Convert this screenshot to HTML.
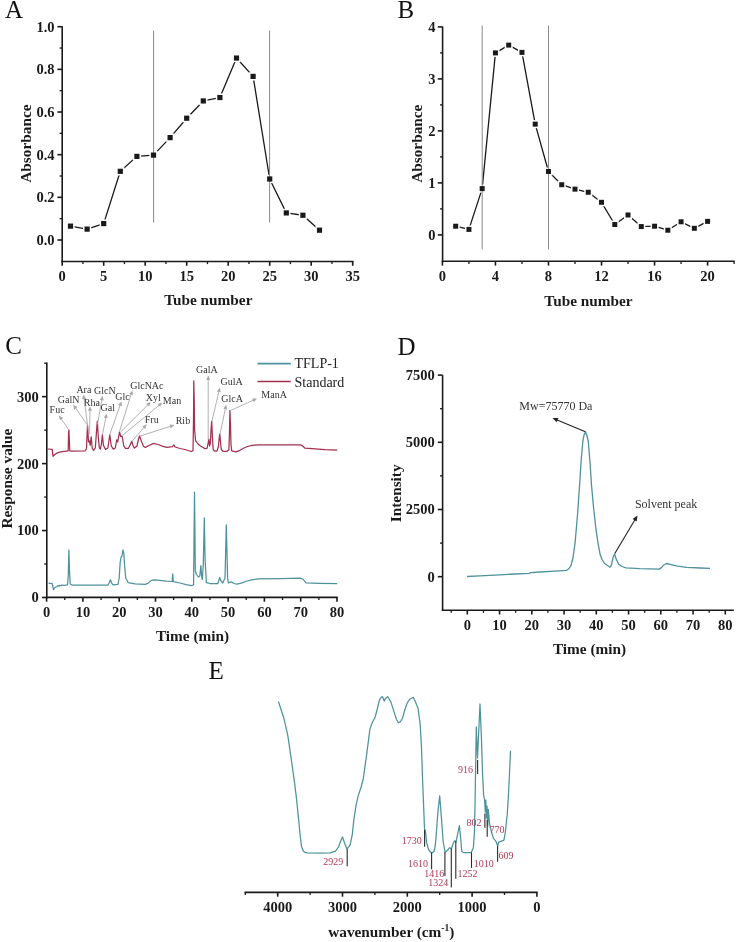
<!DOCTYPE html>
<html><head><meta charset="utf-8"><style>
html,body{margin:0;padding:0;background:#fff;}
svg{display:block;font-family:'Liberation Serif', serif;filter:blur(0.4px);}
</style></head><body>
<svg width="736" height="942" viewBox="0 0 736 942">
<rect width="736" height="942" fill="#fff"/>
<text x="5.00" y="17.80" font-size="25" text-anchor="start" font-weight="normal" fill="#111" >A</text>
<line x1="62.20" y1="26.20" x2="62.20" y2="262.30" stroke="#1a1a1a" stroke-width="1.6" />
<line x1="61.40" y1="261.50" x2="353.50" y2="261.50" stroke="#1a1a1a" stroke-width="1.6" />
<line x1="57.40" y1="240.00" x2="62.20" y2="240.00" stroke="#1a1a1a" stroke-width="1.6" />
<text x="54.60" y="244.90" font-size="14.5" text-anchor="end" font-weight="bold" fill="#1a1a1a" >0.0</text>
<line x1="57.40" y1="197.34" x2="62.20" y2="197.34" stroke="#1a1a1a" stroke-width="1.6" />
<text x="54.60" y="202.24" font-size="14.5" text-anchor="end" font-weight="bold" fill="#1a1a1a" >0.2</text>
<line x1="57.40" y1="154.68" x2="62.20" y2="154.68" stroke="#1a1a1a" stroke-width="1.6" />
<text x="54.60" y="159.58" font-size="14.5" text-anchor="end" font-weight="bold" fill="#1a1a1a" >0.4</text>
<line x1="57.40" y1="112.02" x2="62.20" y2="112.02" stroke="#1a1a1a" stroke-width="1.6" />
<text x="54.60" y="116.92" font-size="14.5" text-anchor="end" font-weight="bold" fill="#1a1a1a" >0.6</text>
<line x1="57.40" y1="69.36" x2="62.20" y2="69.36" stroke="#1a1a1a" stroke-width="1.6" />
<text x="54.60" y="74.26" font-size="14.5" text-anchor="end" font-weight="bold" fill="#1a1a1a" >0.8</text>
<line x1="57.40" y1="26.70" x2="62.20" y2="26.70" stroke="#1a1a1a" stroke-width="1.6" />
<text x="54.60" y="31.60" font-size="14.5" text-anchor="end" font-weight="bold" fill="#1a1a1a" >1.0</text>
<line x1="59.60" y1="218.67" x2="62.20" y2="218.67" stroke="#1a1a1a" stroke-width="1.3" />
<line x1="59.60" y1="176.01" x2="62.20" y2="176.01" stroke="#1a1a1a" stroke-width="1.3" />
<line x1="59.60" y1="133.35" x2="62.20" y2="133.35" stroke="#1a1a1a" stroke-width="1.3" />
<line x1="59.60" y1="90.69" x2="62.20" y2="90.69" stroke="#1a1a1a" stroke-width="1.3" />
<line x1="59.60" y1="48.03" x2="62.20" y2="48.03" stroke="#1a1a1a" stroke-width="1.3" />
<line x1="62.20" y1="261.50" x2="62.20" y2="265.80" stroke="#1a1a1a" stroke-width="1.6" />
<text x="62.20" y="280.80" font-size="14.5" text-anchor="middle" font-weight="bold" fill="#1a1a1a" >0</text>
<line x1="103.70" y1="261.50" x2="103.70" y2="265.80" stroke="#1a1a1a" stroke-width="1.6" />
<text x="103.70" y="280.80" font-size="14.5" text-anchor="middle" font-weight="bold" fill="#1a1a1a" >5</text>
<line x1="145.20" y1="261.50" x2="145.20" y2="265.80" stroke="#1a1a1a" stroke-width="1.6" />
<text x="145.20" y="280.80" font-size="14.5" text-anchor="middle" font-weight="bold" fill="#1a1a1a" >10</text>
<line x1="186.70" y1="261.50" x2="186.70" y2="265.80" stroke="#1a1a1a" stroke-width="1.6" />
<text x="186.70" y="280.80" font-size="14.5" text-anchor="middle" font-weight="bold" fill="#1a1a1a" >15</text>
<line x1="228.20" y1="261.50" x2="228.20" y2="265.80" stroke="#1a1a1a" stroke-width="1.6" />
<text x="228.20" y="280.80" font-size="14.5" text-anchor="middle" font-weight="bold" fill="#1a1a1a" >20</text>
<line x1="269.70" y1="261.50" x2="269.70" y2="265.80" stroke="#1a1a1a" stroke-width="1.6" />
<text x="269.70" y="280.80" font-size="14.5" text-anchor="middle" font-weight="bold" fill="#1a1a1a" >25</text>
<line x1="311.20" y1="261.50" x2="311.20" y2="265.80" stroke="#1a1a1a" stroke-width="1.6" />
<text x="311.20" y="280.80" font-size="14.5" text-anchor="middle" font-weight="bold" fill="#1a1a1a" >30</text>
<line x1="352.70" y1="261.50" x2="352.70" y2="265.80" stroke="#1a1a1a" stroke-width="1.6" />
<text x="352.70" y="280.80" font-size="14.5" text-anchor="middle" font-weight="bold" fill="#1a1a1a" >35</text>
<line x1="82.95" y1="261.50" x2="82.95" y2="264.10" stroke="#1a1a1a" stroke-width="1.3" />
<line x1="124.45" y1="261.50" x2="124.45" y2="264.10" stroke="#1a1a1a" stroke-width="1.3" />
<line x1="165.95" y1="261.50" x2="165.95" y2="264.10" stroke="#1a1a1a" stroke-width="1.3" />
<line x1="207.45" y1="261.50" x2="207.45" y2="264.10" stroke="#1a1a1a" stroke-width="1.3" />
<line x1="248.95" y1="261.50" x2="248.95" y2="264.10" stroke="#1a1a1a" stroke-width="1.3" />
<line x1="290.45" y1="261.50" x2="290.45" y2="264.10" stroke="#1a1a1a" stroke-width="1.3" />
<line x1="331.95" y1="261.50" x2="331.95" y2="264.10" stroke="#1a1a1a" stroke-width="1.3" />
<text x="208.30" y="305.30" font-size="15.3" text-anchor="middle" font-weight="bold" fill="#1a1a1a" >Tube number</text>
<text x="0.00" y="0.00" font-size="15.3" text-anchor="middle" font-weight="bold" fill="#1a1a1a" transform="translate(31,143.6) rotate(-90)">Absorbance</text>
<polyline points="70.50,226.14 87.10,229.12 103.70,223.58 120.30,171.32 136.90,156.39 153.50,155.11 170.10,137.62 186.70,118.21 203.30,100.93 219.90,97.52 236.50,58.06 253.10,76.40 269.70,179.00 286.30,212.91 302.90,215.26 319.50,230.19" fill="none" stroke="#1a1a1a" stroke-width="1.3" stroke-linejoin="round" />
<rect x="66.40" y="222.04" width="8.2" height="8.2" fill="#fff"/>
<rect x="83.00" y="225.02" width="8.2" height="8.2" fill="#fff"/>
<rect x="99.60" y="219.48" width="8.2" height="8.2" fill="#fff"/>
<rect x="116.20" y="167.22" width="8.2" height="8.2" fill="#fff"/>
<rect x="132.80" y="152.29" width="8.2" height="8.2" fill="#fff"/>
<rect x="149.40" y="151.01" width="8.2" height="8.2" fill="#fff"/>
<rect x="166.00" y="133.52" width="8.2" height="8.2" fill="#fff"/>
<rect x="182.60" y="114.11" width="8.2" height="8.2" fill="#fff"/>
<rect x="199.20" y="96.83" width="8.2" height="8.2" fill="#fff"/>
<rect x="215.80" y="93.42" width="8.2" height="8.2" fill="#fff"/>
<rect x="232.40" y="53.96" width="8.2" height="8.2" fill="#fff"/>
<rect x="249.00" y="72.30" width="8.2" height="8.2" fill="#fff"/>
<rect x="265.60" y="174.90" width="8.2" height="8.2" fill="#fff"/>
<rect x="282.20" y="208.81" width="8.2" height="8.2" fill="#fff"/>
<rect x="298.80" y="211.16" width="8.2" height="8.2" fill="#fff"/>
<rect x="315.40" y="226.09" width="8.2" height="8.2" fill="#fff"/>
<line x1="153.60" y1="30.40" x2="153.60" y2="222.50" stroke="#8a8a8a" stroke-width="1.0" />
<line x1="269.60" y1="30.40" x2="269.60" y2="222.50" stroke="#8a8a8a" stroke-width="1.0" />
<rect x="67.90" y="223.54" width="5.2" height="5.2" fill="#1a1a1a"/>
<rect x="84.50" y="226.52" width="5.2" height="5.2" fill="#1a1a1a"/>
<rect x="101.10" y="220.98" width="5.2" height="5.2" fill="#1a1a1a"/>
<rect x="117.70" y="168.72" width="5.2" height="5.2" fill="#1a1a1a"/>
<rect x="134.30" y="153.79" width="5.2" height="5.2" fill="#1a1a1a"/>
<rect x="150.90" y="152.51" width="5.2" height="5.2" fill="#1a1a1a"/>
<rect x="167.50" y="135.02" width="5.2" height="5.2" fill="#1a1a1a"/>
<rect x="184.10" y="115.61" width="5.2" height="5.2" fill="#1a1a1a"/>
<rect x="200.70" y="98.33" width="5.2" height="5.2" fill="#1a1a1a"/>
<rect x="217.30" y="94.92" width="5.2" height="5.2" fill="#1a1a1a"/>
<rect x="233.90" y="55.46" width="5.2" height="5.2" fill="#1a1a1a"/>
<rect x="250.50" y="73.80" width="5.2" height="5.2" fill="#1a1a1a"/>
<rect x="267.10" y="176.40" width="5.2" height="5.2" fill="#1a1a1a"/>
<rect x="283.70" y="210.31" width="5.2" height="5.2" fill="#1a1a1a"/>
<rect x="300.30" y="212.66" width="5.2" height="5.2" fill="#1a1a1a"/>
<rect x="316.90" y="227.59" width="5.2" height="5.2" fill="#1a1a1a"/>
<text x="397.50" y="17.80" font-size="25" text-anchor="start" font-weight="normal" fill="#111" >B</text>
<line x1="442.60" y1="26.50" x2="442.60" y2="262.10" stroke="#1a1a1a" stroke-width="1.6" />
<line x1="441.80" y1="261.30" x2="734.72" y2="261.30" stroke="#1a1a1a" stroke-width="1.6" />
<line x1="437.80" y1="234.90" x2="442.60" y2="234.90" stroke="#1a1a1a" stroke-width="1.6" />
<text x="435.40" y="239.80" font-size="14.5" text-anchor="end" font-weight="bold" fill="#1a1a1a" >0</text>
<line x1="437.80" y1="182.90" x2="442.60" y2="182.90" stroke="#1a1a1a" stroke-width="1.6" />
<text x="435.40" y="187.80" font-size="14.5" text-anchor="end" font-weight="bold" fill="#1a1a1a" >1</text>
<line x1="437.80" y1="130.90" x2="442.60" y2="130.90" stroke="#1a1a1a" stroke-width="1.6" />
<text x="435.40" y="135.80" font-size="14.5" text-anchor="end" font-weight="bold" fill="#1a1a1a" >2</text>
<line x1="437.80" y1="78.90" x2="442.60" y2="78.90" stroke="#1a1a1a" stroke-width="1.6" />
<text x="435.40" y="83.80" font-size="14.5" text-anchor="end" font-weight="bold" fill="#1a1a1a" >3</text>
<line x1="437.80" y1="26.90" x2="442.60" y2="26.90" stroke="#1a1a1a" stroke-width="1.6" />
<text x="435.40" y="31.80" font-size="14.5" text-anchor="end" font-weight="bold" fill="#1a1a1a" >4</text>
<line x1="440.00" y1="208.90" x2="442.60" y2="208.90" stroke="#1a1a1a" stroke-width="1.3" />
<line x1="440.00" y1="156.90" x2="442.60" y2="156.90" stroke="#1a1a1a" stroke-width="1.3" />
<line x1="440.00" y1="104.90" x2="442.60" y2="104.90" stroke="#1a1a1a" stroke-width="1.3" />
<line x1="440.00" y1="52.90" x2="442.60" y2="52.90" stroke="#1a1a1a" stroke-width="1.3" />
<line x1="442.40" y1="261.30" x2="442.40" y2="265.60" stroke="#1a1a1a" stroke-width="1.6" />
<text x="442.40" y="280.60" font-size="14.5" text-anchor="middle" font-weight="bold" fill="#1a1a1a" >0</text>
<line x1="495.44" y1="261.30" x2="495.44" y2="265.60" stroke="#1a1a1a" stroke-width="1.6" />
<text x="495.44" y="280.60" font-size="14.5" text-anchor="middle" font-weight="bold" fill="#1a1a1a" >4</text>
<line x1="548.48" y1="261.30" x2="548.48" y2="265.60" stroke="#1a1a1a" stroke-width="1.6" />
<text x="548.48" y="280.60" font-size="14.5" text-anchor="middle" font-weight="bold" fill="#1a1a1a" >8</text>
<line x1="601.52" y1="261.30" x2="601.52" y2="265.60" stroke="#1a1a1a" stroke-width="1.6" />
<text x="601.52" y="280.60" font-size="14.5" text-anchor="middle" font-weight="bold" fill="#1a1a1a" >12</text>
<line x1="654.56" y1="261.30" x2="654.56" y2="265.60" stroke="#1a1a1a" stroke-width="1.6" />
<text x="654.56" y="280.60" font-size="14.5" text-anchor="middle" font-weight="bold" fill="#1a1a1a" >16</text>
<line x1="707.60" y1="261.30" x2="707.60" y2="265.60" stroke="#1a1a1a" stroke-width="1.6" />
<text x="707.60" y="280.60" font-size="14.5" text-anchor="middle" font-weight="bold" fill="#1a1a1a" >20</text>
<line x1="468.92" y1="261.30" x2="468.92" y2="263.90" stroke="#1a1a1a" stroke-width="1.3" />
<line x1="521.96" y1="261.30" x2="521.96" y2="263.90" stroke="#1a1a1a" stroke-width="1.3" />
<line x1="575.00" y1="261.30" x2="575.00" y2="263.90" stroke="#1a1a1a" stroke-width="1.3" />
<line x1="628.04" y1="261.30" x2="628.04" y2="263.90" stroke="#1a1a1a" stroke-width="1.3" />
<line x1="681.08" y1="261.30" x2="681.08" y2="263.90" stroke="#1a1a1a" stroke-width="1.3" />
<line x1="734.12" y1="261.30" x2="734.12" y2="263.90" stroke="#1a1a1a" stroke-width="1.3" />
<text x="588.50" y="305.50" font-size="15.3" text-anchor="middle" font-weight="bold" fill="#1a1a1a" >Tube number</text>
<text x="0.00" y="0.00" font-size="15.3" text-anchor="middle" font-weight="bold" fill="#1a1a1a" transform="translate(422.2,143.7) rotate(-90)">Absorbance</text>
<polyline points="455.66,226.22 468.92,229.39 482.18,188.62 495.44,52.90 508.70,45.10 521.96,52.38 535.22,124.14 548.48,171.46 561.74,184.72 575.00,189.14 588.26,192.26 601.52,202.30 614.78,224.50 628.04,214.98 641.30,226.58 654.56,226.22 667.82,230.22 681.08,221.80 694.34,228.30 707.60,221.38" fill="none" stroke="#1a1a1a" stroke-width="1.3" stroke-linejoin="round" />
<rect x="451.66" y="222.22" width="8" height="8" fill="#fff"/>
<rect x="464.92" y="225.39" width="8" height="8" fill="#fff"/>
<rect x="478.18" y="184.62" width="8" height="8" fill="#fff"/>
<rect x="491.44" y="48.90" width="8" height="8" fill="#fff"/>
<rect x="504.70" y="41.10" width="8" height="8" fill="#fff"/>
<rect x="517.96" y="48.38" width="8" height="8" fill="#fff"/>
<rect x="531.22" y="120.14" width="8" height="8" fill="#fff"/>
<rect x="544.48" y="167.46" width="8" height="8" fill="#fff"/>
<rect x="557.74" y="180.72" width="8" height="8" fill="#fff"/>
<rect x="571.00" y="185.14" width="8" height="8" fill="#fff"/>
<rect x="584.26" y="188.26" width="8" height="8" fill="#fff"/>
<rect x="597.52" y="198.30" width="8" height="8" fill="#fff"/>
<rect x="610.78" y="220.50" width="8" height="8" fill="#fff"/>
<rect x="624.04" y="210.98" width="8" height="8" fill="#fff"/>
<rect x="637.30" y="222.58" width="8" height="8" fill="#fff"/>
<rect x="650.56" y="222.22" width="8" height="8" fill="#fff"/>
<rect x="663.82" y="226.22" width="8" height="8" fill="#fff"/>
<rect x="677.08" y="217.80" width="8" height="8" fill="#fff"/>
<rect x="690.34" y="224.30" width="8" height="8" fill="#fff"/>
<rect x="703.60" y="217.38" width="8" height="8" fill="#fff"/>
<line x1="482.20" y1="25.50" x2="482.20" y2="249.40" stroke="#8a8a8a" stroke-width="1.0" />
<line x1="548.50" y1="25.50" x2="548.50" y2="249.40" stroke="#8a8a8a" stroke-width="1.0" />
<rect x="453.16" y="223.72" width="5" height="5" fill="#1a1a1a"/>
<rect x="466.42" y="226.89" width="5" height="5" fill="#1a1a1a"/>
<rect x="479.68" y="186.12" width="5" height="5" fill="#1a1a1a"/>
<rect x="492.94" y="50.40" width="5" height="5" fill="#1a1a1a"/>
<rect x="506.20" y="42.60" width="5" height="5" fill="#1a1a1a"/>
<rect x="519.46" y="49.88" width="5" height="5" fill="#1a1a1a"/>
<rect x="532.72" y="121.64" width="5" height="5" fill="#1a1a1a"/>
<rect x="545.98" y="168.96" width="5" height="5" fill="#1a1a1a"/>
<rect x="559.24" y="182.22" width="5" height="5" fill="#1a1a1a"/>
<rect x="572.50" y="186.64" width="5" height="5" fill="#1a1a1a"/>
<rect x="585.76" y="189.76" width="5" height="5" fill="#1a1a1a"/>
<rect x="599.02" y="199.80" width="5" height="5" fill="#1a1a1a"/>
<rect x="612.28" y="222.00" width="5" height="5" fill="#1a1a1a"/>
<rect x="625.54" y="212.48" width="5" height="5" fill="#1a1a1a"/>
<rect x="638.80" y="224.08" width="5" height="5" fill="#1a1a1a"/>
<rect x="652.06" y="223.72" width="5" height="5" fill="#1a1a1a"/>
<rect x="665.32" y="227.72" width="5" height="5" fill="#1a1a1a"/>
<rect x="678.58" y="219.30" width="5" height="5" fill="#1a1a1a"/>
<rect x="691.84" y="225.80" width="5" height="5" fill="#1a1a1a"/>
<rect x="705.10" y="218.88" width="5" height="5" fill="#1a1a1a"/>
<text x="5.20" y="354.20" font-size="25" text-anchor="start" font-weight="normal" fill="#111" >C</text>
<line x1="46.80" y1="362.50" x2="46.80" y2="598.20" stroke="#1a1a1a" stroke-width="1.6" />
<line x1="46.00" y1="597.40" x2="337.80" y2="597.40" stroke="#1a1a1a" stroke-width="1.6" />
<line x1="42.00" y1="597.50" x2="46.80" y2="597.50" stroke="#1a1a1a" stroke-width="1.6" />
<text x="38.80" y="602.40" font-size="14.5" text-anchor="end" font-weight="bold" fill="#1a1a1a" >0</text>
<line x1="42.00" y1="530.55" x2="46.80" y2="530.55" stroke="#1a1a1a" stroke-width="1.6" />
<text x="38.80" y="535.45" font-size="14.5" text-anchor="end" font-weight="bold" fill="#1a1a1a" >100</text>
<line x1="42.00" y1="463.60" x2="46.80" y2="463.60" stroke="#1a1a1a" stroke-width="1.6" />
<text x="38.80" y="468.50" font-size="14.5" text-anchor="end" font-weight="bold" fill="#1a1a1a" >200</text>
<line x1="42.00" y1="396.65" x2="46.80" y2="396.65" stroke="#1a1a1a" stroke-width="1.6" />
<text x="38.80" y="401.55" font-size="14.5" text-anchor="end" font-weight="bold" fill="#1a1a1a" >300</text>
<line x1="44.20" y1="564.02" x2="46.80" y2="564.02" stroke="#1a1a1a" stroke-width="1.3" />
<line x1="44.20" y1="497.07" x2="46.80" y2="497.07" stroke="#1a1a1a" stroke-width="1.3" />
<line x1="44.20" y1="430.12" x2="46.80" y2="430.12" stroke="#1a1a1a" stroke-width="1.3" />
<line x1="44.20" y1="363.18" x2="46.80" y2="363.18" stroke="#1a1a1a" stroke-width="1.3" />
<line x1="46.60" y1="597.40" x2="46.60" y2="601.70" stroke="#1a1a1a" stroke-width="1.6" />
<text x="46.60" y="617.00" font-size="14.5" text-anchor="middle" font-weight="bold" fill="#1a1a1a" >0</text>
<line x1="82.90" y1="597.40" x2="82.90" y2="601.70" stroke="#1a1a1a" stroke-width="1.6" />
<text x="82.90" y="617.00" font-size="14.5" text-anchor="middle" font-weight="bold" fill="#1a1a1a" >10</text>
<line x1="119.20" y1="597.40" x2="119.20" y2="601.70" stroke="#1a1a1a" stroke-width="1.6" />
<text x="119.20" y="617.00" font-size="14.5" text-anchor="middle" font-weight="bold" fill="#1a1a1a" >20</text>
<line x1="155.50" y1="597.40" x2="155.50" y2="601.70" stroke="#1a1a1a" stroke-width="1.6" />
<text x="155.50" y="617.00" font-size="14.5" text-anchor="middle" font-weight="bold" fill="#1a1a1a" >30</text>
<line x1="191.80" y1="597.40" x2="191.80" y2="601.70" stroke="#1a1a1a" stroke-width="1.6" />
<text x="191.80" y="617.00" font-size="14.5" text-anchor="middle" font-weight="bold" fill="#1a1a1a" >40</text>
<line x1="228.10" y1="597.40" x2="228.10" y2="601.70" stroke="#1a1a1a" stroke-width="1.6" />
<text x="228.10" y="617.00" font-size="14.5" text-anchor="middle" font-weight="bold" fill="#1a1a1a" >50</text>
<line x1="264.40" y1="597.40" x2="264.40" y2="601.70" stroke="#1a1a1a" stroke-width="1.6" />
<text x="264.40" y="617.00" font-size="14.5" text-anchor="middle" font-weight="bold" fill="#1a1a1a" >60</text>
<line x1="300.70" y1="597.40" x2="300.70" y2="601.70" stroke="#1a1a1a" stroke-width="1.6" />
<text x="300.70" y="617.00" font-size="14.5" text-anchor="middle" font-weight="bold" fill="#1a1a1a" >70</text>
<line x1="337.00" y1="597.40" x2="337.00" y2="601.70" stroke="#1a1a1a" stroke-width="1.6" />
<text x="337.00" y="617.00" font-size="14.5" text-anchor="middle" font-weight="bold" fill="#1a1a1a" >80</text>
<line x1="64.75" y1="597.40" x2="64.75" y2="600.00" stroke="#1a1a1a" stroke-width="1.3" />
<line x1="101.05" y1="597.40" x2="101.05" y2="600.00" stroke="#1a1a1a" stroke-width="1.3" />
<line x1="137.35" y1="597.40" x2="137.35" y2="600.00" stroke="#1a1a1a" stroke-width="1.3" />
<line x1="173.65" y1="597.40" x2="173.65" y2="600.00" stroke="#1a1a1a" stroke-width="1.3" />
<line x1="209.95" y1="597.40" x2="209.95" y2="600.00" stroke="#1a1a1a" stroke-width="1.3" />
<line x1="246.25" y1="597.40" x2="246.25" y2="600.00" stroke="#1a1a1a" stroke-width="1.3" />
<line x1="282.55" y1="597.40" x2="282.55" y2="600.00" stroke="#1a1a1a" stroke-width="1.3" />
<line x1="318.85" y1="597.40" x2="318.85" y2="600.00" stroke="#1a1a1a" stroke-width="1.3" />
<text x="192.50" y="640.80" font-size="15.3" text-anchor="middle" font-weight="bold" fill="#1a1a1a" >Time (min)</text>
<text x="0.00" y="0.00" font-size="15.3" text-anchor="middle" font-weight="bold" fill="#1a1a1a" transform="translate(12,478.6) rotate(-90)">Response value</text>
<line x1="257.50" y1="363.60" x2="290.80" y2="363.60" stroke="#4e929c" stroke-width="1.6" />
<line x1="257.50" y1="381.50" x2="290.80" y2="381.50" stroke="#a2304f" stroke-width="1.6" />
<text x="294.50" y="368.40" font-size="14" text-anchor="start" font-weight="normal" fill="#222" >TFLP-1</text>
<text x="294.50" y="386.70" font-size="14" text-anchor="start" font-weight="normal" fill="#222" >Standard</text>
<polyline points="47.50,449.00 52.20,449.40 53.00,456.30 55.00,454.20 58.00,452.60 62.00,451.70 67.00,451.20 68.20,450.60 68.60,432.00 68.90,429.80 69.30,440.00 69.80,450.80 72.00,451.20 85.10,451.00 86.50,448.50 87.00,436.00 87.50,425.30 88.50,441.90 89.50,440.90 90.20,445.30 91.20,436.80 92.20,448.00 93.60,450.40 95.30,448.00 96.60,430.40 97.30,421.20 98.30,437.20 99.40,448.00 100.40,449.10 101.40,444.00 102.40,434.80 103.40,445.30 105.50,449.40 107.90,448.00 109.80,434.80 111.30,446.00 113.30,449.10 115.30,448.00 116.70,439.90 117.70,441.90 119.50,432.10 120.80,436.50 122.10,436.20 123.80,446.00 125.50,448.40 128.50,448.30 130.30,444.50 131.70,441.30 133.00,445.50 134.50,448.10 137.00,446.00 138.50,439.00 139.60,435.90 141.50,441.50 143.50,446.20 145.30,447.40 149.00,445.50 153.50,443.40 158.00,444.50 163.00,446.30 167.00,447.40 172.50,446.60 173.90,445.00 175.00,447.00 180.00,448.50 185.00,449.50 191.50,451.50 193.00,450.50 193.50,420.00 193.80,380.90 194.20,400.00 194.60,430.00 195.60,440.70 198.00,444.00 200.50,446.00 203.00,447.50 205.00,448.60 207.00,448.30 208.00,444.00 208.80,439.00 209.60,446.00 210.40,443.00 211.00,430.00 211.70,421.30 212.40,437.00 213.20,449.50 214.50,451.20 217.00,451.20 218.50,446.00 219.20,438.00 219.80,434.20 220.50,442.00 221.30,449.50 223.00,451.30 227.00,451.30 228.90,449.50 229.40,435.00 229.90,410.50 230.50,425.00 231.00,445.00 231.70,450.80 235.90,451.90 240.00,450.30 244.00,448.00 247.60,446.50 252.00,445.40 258.20,444.90 300.20,444.90 302.50,445.80 305.00,448.20 312.00,448.60 325.00,449.60 337.20,450.20" fill="none" stroke="#a2304f" stroke-width="1.25" stroke-linejoin="round" />
<polyline points="48.50,583.20 52.30,583.60 53.40,589.70 55.00,587.50 57.00,586.50 58.00,585.60 59.00,586.20 60.00,585.30 61.00,585.80 62.00,585.00 64.00,585.30 67.50,584.90 68.30,575.00 68.90,550.10 69.50,570.00 70.20,584.00 72.00,585.00 108.00,585.00 109.50,582.30 110.50,579.60 111.50,582.80 113.00,584.80 118.00,584.40 119.20,578.00 120.20,562.00 121.10,557.10 122.00,556.00 123.00,549.80 123.80,553.00 124.60,566.00 125.70,577.80 128.20,582.70 135.00,583.80 145.30,584.40 148.00,583.20 151.00,580.60 154.20,579.80 160.00,580.40 166.00,581.20 172.20,581.50 172.70,573.80 173.30,581.60 180.00,583.00 186.00,584.60 191.70,585.70 193.60,584.50 194.00,540.00 194.50,492.20 194.90,530.00 195.30,570.50 196.50,574.50 198.30,577.00 199.80,576.00 200.90,565.60 201.60,576.00 202.30,579.50 203.30,565.00 204.30,517.80 205.10,560.00 206.40,582.70 210.00,583.50 217.80,583.50 219.00,580.00 219.80,577.50 220.80,580.50 222.70,583.00 225.00,578.00 225.70,550.00 226.30,524.80 226.90,550.00 227.60,578.00 228.40,583.00 230.00,582.20 231.70,581.90 234.00,583.50 237.00,584.20 242.00,582.80 247.00,581.00 252.00,579.80 258.20,578.90 280.00,578.60 300.70,578.20 303.00,579.20 306.00,582.90 320.00,583.30 337.20,583.60" fill="none" stroke="#4e929c" stroke-width="1.25" stroke-linejoin="round" />
<text x="49.60" y="413.00" font-size="10" text-anchor="start" font-weight="normal" fill="#333" >Fuc</text>
<text x="57.80" y="403.20" font-size="10" text-anchor="start" font-weight="normal" fill="#333" >GalN</text>
<text x="76.40" y="393.40" font-size="10" text-anchor="start" font-weight="normal" fill="#333" >Ara</text>
<text x="83.80" y="405.60" font-size="10" text-anchor="start" font-weight="normal" fill="#333" >Rha</text>
<text x="94.00" y="394.20" font-size="10" text-anchor="start" font-weight="normal" fill="#333" >GlcN</text>
<text x="100.60" y="411.30" font-size="10" text-anchor="start" font-weight="normal" fill="#333" >Gal</text>
<text x="115.20" y="399.90" font-size="10" text-anchor="start" font-weight="normal" fill="#333" >Glc</text>
<text x="130.20" y="389.00" font-size="10" text-anchor="start" font-weight="normal" fill="#333" >GlcNAc</text>
<text x="145.80" y="400.60" font-size="10" text-anchor="start" font-weight="normal" fill="#333" >Xyl</text>
<text x="162.80" y="404.00" font-size="10" text-anchor="start" font-weight="normal" fill="#333" >Man</text>
<text x="144.80" y="423.00" font-size="10" text-anchor="start" font-weight="normal" fill="#333" >Fru</text>
<text x="175.70" y="424.30" font-size="10" text-anchor="start" font-weight="normal" fill="#333" >Rib</text>
<text x="196.10" y="373.10" font-size="10" text-anchor="start" font-weight="normal" fill="#333" >GalA</text>
<text x="220.60" y="385.30" font-size="10" text-anchor="start" font-weight="normal" fill="#333" >GulA</text>
<text x="221.20" y="402.30" font-size="10" text-anchor="start" font-weight="normal" fill="#333" >GlcA</text>
<text x="261.30" y="398.20" font-size="10" text-anchor="start" font-weight="normal" fill="#333" >ManA</text>
<line x1="68.50" y1="429.50" x2="61.25" y2="418.81" stroke="#a8a8a8" stroke-width="0.9" />
<polygon points="59.00,415.50 63.18,418.10 59.87,420.35" fill="#a8a8a8"/>
<line x1="87.30" y1="425.00" x2="75.56" y2="407.90" stroke="#a8a8a8" stroke-width="0.9" />
<polygon points="73.30,404.60 77.50,407.18 74.20,409.44" fill="#a8a8a8"/>
<line x1="88.40" y1="431.00" x2="84.03" y2="398.46" stroke="#a8a8a8" stroke-width="0.9" />
<polygon points="83.50,394.50 86.08,398.69 82.12,399.23" fill="#a8a8a8"/>
<line x1="89.60" y1="434.00" x2="89.94" y2="410.20" stroke="#a8a8a8" stroke-width="0.9" />
<polygon points="90.00,406.20 91.94,410.73 87.94,410.67" fill="#a8a8a8"/>
<line x1="97.50" y1="424.30" x2="101.81" y2="399.74" stroke="#a8a8a8" stroke-width="0.9" />
<polygon points="102.50,395.80 103.69,400.58 99.75,399.89" fill="#a8a8a8"/>
<line x1="102.60" y1="434.00" x2="105.83" y2="417.43" stroke="#a8a8a8" stroke-width="0.9" />
<polygon points="106.60,413.50 107.70,418.30 103.78,417.53" fill="#a8a8a8"/>
<line x1="109.80" y1="434.50" x2="120.17" y2="405.07" stroke="#a8a8a8" stroke-width="0.9" />
<polygon points="121.50,401.30 121.89,406.21 118.12,404.88" fill="#a8a8a8"/>
<line x1="119.30" y1="432.00" x2="131.20" y2="394.22" stroke="#a8a8a8" stroke-width="0.9" />
<polygon points="132.40,390.40 132.96,395.29 129.14,394.09" fill="#a8a8a8"/>
<line x1="120.60" y1="432.00" x2="147.97" y2="404.72" stroke="#a8a8a8" stroke-width="0.9" />
<polygon points="150.80,401.90 149.02,406.49 146.20,403.66" fill="#a8a8a8"/>
<line x1="122.40" y1="435.50" x2="159.21" y2="405.14" stroke="#a8a8a8" stroke-width="0.9" />
<polygon points="162.30,402.60 160.10,407.01 157.56,403.92" fill="#a8a8a8"/>
<line x1="132.00" y1="441.30" x2="144.08" y2="427.33" stroke="#a8a8a8" stroke-width="0.9" />
<polygon points="146.70,424.30 145.27,429.01 142.24,426.40" fill="#a8a8a8"/>
<line x1="140.20" y1="436.00" x2="170.69" y2="426.22" stroke="#a8a8a8" stroke-width="0.9" />
<polygon points="174.50,425.00 170.83,428.28 169.60,424.47" fill="#a8a8a8"/>
<line x1="208.20" y1="440.00" x2="208.20" y2="379.50" stroke="#a8a8a8" stroke-width="0.9" />
<polygon points="208.20,375.50 210.20,380.00 206.20,380.00" fill="#a8a8a8"/>
<line x1="211.90" y1="421.50" x2="218.89" y2="391.40" stroke="#a8a8a8" stroke-width="0.9" />
<polygon points="219.80,387.50 220.73,392.34 216.83,391.43" fill="#a8a8a8"/>
<line x1="220.00" y1="434.20" x2="225.37" y2="408.71" stroke="#a8a8a8" stroke-width="0.9" />
<polygon points="226.20,404.80 227.23,409.62 223.31,408.79" fill="#a8a8a8"/>
<line x1="230.50" y1="410.50" x2="253.36" y2="400.15" stroke="#a8a8a8" stroke-width="0.9" />
<polygon points="257.00,398.50 253.73,402.18 252.08,398.53" fill="#a8a8a8"/>
<text x="397.50" y="354.50" font-size="25" text-anchor="start" font-weight="normal" fill="#111" >D</text>
<line x1="442.60" y1="375.20" x2="442.60" y2="611.00" stroke="#1a1a1a" stroke-width="1.6" />
<line x1="441.80" y1="610.20" x2="733.80" y2="610.20" stroke="#1a1a1a" stroke-width="1.6" />
<line x1="437.80" y1="576.70" x2="442.60" y2="576.70" stroke="#1a1a1a" stroke-width="1.6" />
<text x="434.80" y="581.60" font-size="14.5" text-anchor="end" font-weight="bold" fill="#1a1a1a" >0</text>
<line x1="437.80" y1="509.50" x2="442.60" y2="509.50" stroke="#1a1a1a" stroke-width="1.6" />
<text x="434.80" y="514.40" font-size="14.5" text-anchor="end" font-weight="bold" fill="#1a1a1a" >2500</text>
<line x1="437.80" y1="442.30" x2="442.60" y2="442.30" stroke="#1a1a1a" stroke-width="1.6" />
<text x="434.80" y="447.20" font-size="14.5" text-anchor="end" font-weight="bold" fill="#1a1a1a" >5000</text>
<line x1="437.80" y1="375.10" x2="442.60" y2="375.10" stroke="#1a1a1a" stroke-width="1.6" />
<text x="434.80" y="380.00" font-size="14.5" text-anchor="end" font-weight="bold" fill="#1a1a1a" >7500</text>
<line x1="440.00" y1="543.10" x2="442.60" y2="543.10" stroke="#1a1a1a" stroke-width="1.3" />
<line x1="440.00" y1="475.90" x2="442.60" y2="475.90" stroke="#1a1a1a" stroke-width="1.3" />
<line x1="440.00" y1="408.70" x2="442.60" y2="408.70" stroke="#1a1a1a" stroke-width="1.3" />
<line x1="467.30" y1="610.20" x2="467.30" y2="614.50" stroke="#1a1a1a" stroke-width="1.6" />
<text x="467.30" y="629.80" font-size="14.5" text-anchor="middle" font-weight="bold" fill="#1a1a1a" >0</text>
<line x1="499.55" y1="610.20" x2="499.55" y2="614.50" stroke="#1a1a1a" stroke-width="1.6" />
<text x="499.55" y="629.80" font-size="14.5" text-anchor="middle" font-weight="bold" fill="#1a1a1a" >10</text>
<line x1="531.80" y1="610.20" x2="531.80" y2="614.50" stroke="#1a1a1a" stroke-width="1.6" />
<text x="531.80" y="629.80" font-size="14.5" text-anchor="middle" font-weight="bold" fill="#1a1a1a" >20</text>
<line x1="564.05" y1="610.20" x2="564.05" y2="614.50" stroke="#1a1a1a" stroke-width="1.6" />
<text x="564.05" y="629.80" font-size="14.5" text-anchor="middle" font-weight="bold" fill="#1a1a1a" >30</text>
<line x1="596.30" y1="610.20" x2="596.30" y2="614.50" stroke="#1a1a1a" stroke-width="1.6" />
<text x="596.30" y="629.80" font-size="14.5" text-anchor="middle" font-weight="bold" fill="#1a1a1a" >40</text>
<line x1="628.55" y1="610.20" x2="628.55" y2="614.50" stroke="#1a1a1a" stroke-width="1.6" />
<text x="628.55" y="629.80" font-size="14.5" text-anchor="middle" font-weight="bold" fill="#1a1a1a" >50</text>
<line x1="660.80" y1="610.20" x2="660.80" y2="614.50" stroke="#1a1a1a" stroke-width="1.6" />
<text x="660.80" y="629.80" font-size="14.5" text-anchor="middle" font-weight="bold" fill="#1a1a1a" >60</text>
<line x1="693.05" y1="610.20" x2="693.05" y2="614.50" stroke="#1a1a1a" stroke-width="1.6" />
<text x="693.05" y="629.80" font-size="14.5" text-anchor="middle" font-weight="bold" fill="#1a1a1a" >70</text>
<line x1="725.30" y1="610.20" x2="725.30" y2="614.50" stroke="#1a1a1a" stroke-width="1.6" />
<text x="725.30" y="629.80" font-size="14.5" text-anchor="middle" font-weight="bold" fill="#1a1a1a" >80</text>
<line x1="451.18" y1="610.20" x2="451.18" y2="612.80" stroke="#1a1a1a" stroke-width="1.3" />
<line x1="483.43" y1="610.20" x2="483.43" y2="612.80" stroke="#1a1a1a" stroke-width="1.3" />
<line x1="515.67" y1="610.20" x2="515.67" y2="612.80" stroke="#1a1a1a" stroke-width="1.3" />
<line x1="547.92" y1="610.20" x2="547.92" y2="612.80" stroke="#1a1a1a" stroke-width="1.3" />
<line x1="580.17" y1="610.20" x2="580.17" y2="612.80" stroke="#1a1a1a" stroke-width="1.3" />
<line x1="612.42" y1="610.20" x2="612.42" y2="612.80" stroke="#1a1a1a" stroke-width="1.3" />
<line x1="644.67" y1="610.20" x2="644.67" y2="612.80" stroke="#1a1a1a" stroke-width="1.3" />
<line x1="676.92" y1="610.20" x2="676.92" y2="612.80" stroke="#1a1a1a" stroke-width="1.3" />
<line x1="709.17" y1="610.20" x2="709.17" y2="612.80" stroke="#1a1a1a" stroke-width="1.3" />
<text x="589.50" y="654.20" font-size="15.3" text-anchor="middle" font-weight="bold" fill="#1a1a1a" >Time (min)</text>
<text x="0.00" y="0.00" font-size="15.3" text-anchor="middle" font-weight="bold" fill="#1a1a1a" transform="translate(401.2,493.3) rotate(-90)">Intensity</text>
<polyline points="467.00,576.50 480.00,575.80 500.00,574.80 515.00,574.00 529.60,573.30 530.50,572.60 540.00,572.00 555.00,571.20 566.50,570.40 569.00,568.50 570.90,565.70 573.00,558.00 575.20,541.70 577.50,515.00 579.60,485.20 581.20,460.00 582.80,441.70 584.00,435.00 585.40,432.00 586.80,435.00 588.30,441.70 590.00,462.00 591.50,485.20 593.50,507.00 595.90,528.70 598.00,543.00 600.20,554.80 602.30,560.00 604.60,563.50 607.50,565.50 610.00,567.20 611.30,565.50 613.20,557.00 614.60,553.90 616.00,558.50 618.50,564.10 622.00,566.50 625.90,567.80 640.00,568.60 659.10,569.10 661.50,567.60 663.50,565.20 666.50,563.50 671.00,564.60 677.60,566.20 686.90,567.30 700.00,568.00 710.00,568.40" fill="none" stroke="#4e929c" stroke-width="1.3" stroke-linejoin="round" />
<line x1="585.40" y1="431.80" x2="557.11" y2="419.93" stroke="#222" stroke-width="1.1" />
<polygon points="552.50,418.00 558.50,417.91 556.64,422.34" fill="#222"/>
<line x1="614.80" y1="553.50" x2="634.94" y2="519.79" stroke="#222" stroke-width="1.1" />
<polygon points="637.50,515.50 636.74,521.45 632.62,518.99" fill="#222"/>
<text x="519.30" y="409.70" font-size="12" text-anchor="start" font-weight="normal" fill="#333" >Mw=75770 Da</text>
<text x="634.90" y="507.70" font-size="12" text-anchor="start" font-weight="normal" fill="#333" >Solvent peak</text>
<text x="208.50" y="678.80" font-size="25" text-anchor="start" font-weight="normal" fill="#111" >E</text>
<line x1="244.50" y1="892.40" x2="537.70" y2="892.40" stroke="#1a1a1a" stroke-width="1.6" />
<line x1="277.70" y1="892.40" x2="277.70" y2="896.70" stroke="#1a1a1a" stroke-width="1.6" />
<text x="277.70" y="911.60" font-size="14.5" text-anchor="middle" font-weight="bold" fill="#1a1a1a" >4000</text>
<line x1="342.50" y1="892.40" x2="342.50" y2="896.70" stroke="#1a1a1a" stroke-width="1.6" />
<text x="342.50" y="911.60" font-size="14.5" text-anchor="middle" font-weight="bold" fill="#1a1a1a" >3000</text>
<line x1="407.30" y1="892.40" x2="407.30" y2="896.70" stroke="#1a1a1a" stroke-width="1.6" />
<text x="407.30" y="911.60" font-size="14.5" text-anchor="middle" font-weight="bold" fill="#1a1a1a" >2000</text>
<line x1="472.10" y1="892.40" x2="472.10" y2="896.70" stroke="#1a1a1a" stroke-width="1.6" />
<text x="472.10" y="911.60" font-size="14.5" text-anchor="middle" font-weight="bold" fill="#1a1a1a" >1000</text>
<line x1="536.90" y1="892.40" x2="536.90" y2="896.70" stroke="#1a1a1a" stroke-width="1.6" />
<text x="536.90" y="911.60" font-size="14.5" text-anchor="middle" font-weight="bold" fill="#1a1a1a" >0</text>
<line x1="245.30" y1="892.40" x2="245.30" y2="895.00" stroke="#1a1a1a" stroke-width="1.3" />
<line x1="310.10" y1="892.40" x2="310.10" y2="895.00" stroke="#1a1a1a" stroke-width="1.3" />
<line x1="374.90" y1="892.40" x2="374.90" y2="895.00" stroke="#1a1a1a" stroke-width="1.3" />
<line x1="439.70" y1="892.40" x2="439.70" y2="895.00" stroke="#1a1a1a" stroke-width="1.3" />
<line x1="504.50" y1="892.40" x2="504.50" y2="895.00" stroke="#1a1a1a" stroke-width="1.3" />
<text x="391.3" y="936.8" font-size="15.3" text-anchor="middle" font-weight="bold" fill="#1a1a1a">wavenumber (cm<tspan font-size="9.5" dy="-5.5">-1</tspan><tspan dy="5.5">)</tspan></text>
<polyline points="278.40,701.50 283.60,717.20 287.70,734.80 291.10,757.90 294.50,782.40 296.50,798.70 298.60,819.40 300.20,836.00 301.50,846.20 303.00,850.50 304.50,852.10 307.00,852.90 320.00,853.00 330.00,852.90 335.30,851.30 338.50,847.00 340.70,841.00 342.50,837.00 344.30,842.30 347.00,849.20 350.20,844.90 352.30,834.30 353.90,819.40 356.00,805.60 358.10,796.10 361.30,786.50 363.40,778.00 365.00,766.40 367.10,751.10 369.90,729.40 371.90,723.50 375.30,716.70 377.40,708.50 379.40,700.40 380.80,697.80 382.40,696.60 384.20,701.10 385.60,698.50 387.60,696.60 389.20,699.00 391.00,702.40 394.30,712.60 396.50,719.50 398.40,722.80 400.30,721.80 402.50,718.00 404.50,711.00 406.60,704.50 408.30,701.20 410.00,699.00 413.40,697.40 415.40,701.70 418.10,708.50 420.20,724.80 421.50,747.90 422.60,780.00 423.80,810.80 424.50,828.40 425.10,829.80 425.80,834.00 426.50,842.00 428.00,847.50 429.20,850.80 431.90,852.90 434.00,851.50 435.20,846.00 436.00,837.90 438.00,810.80 439.70,795.80 441.40,817.60 443.20,842.00 445.10,852.20 447.60,850.20 449.60,847.70 451.40,848.80 453.00,844.00 454.60,840.70 456.00,842.00 457.70,833.90 459.40,825.70 460.90,840.70 461.80,851.50 463.50,852.50 471.30,852.50 473.40,847.40 474.50,831.10 475.10,800.00 475.60,770.00 476.30,726.80 477.50,758.00 480.00,704.00 481.50,740.00 482.60,775.00 483.60,795.00 484.60,800.00 485.30,812.00 485.80,800.00 486.50,818.00 487.00,806.00 487.80,826.00 488.30,809.40 489.20,820.00 490.10,826.80 492.00,833.50 493.40,838.30 495.80,841.10 497.70,845.90 498.70,842.10 501.50,841.10 503.90,840.20 505.30,832.50 506.80,818.20 507.20,815.30 508.20,799.10 509.20,780.00 510.50,750.70" fill="none" stroke="#4e929c" stroke-width="1.25" stroke-linejoin="round" />
<line x1="347.20" y1="849.20" x2="347.20" y2="866.20" stroke="#2a2a2a" stroke-width="1.1" />
<line x1="424.60" y1="829.80" x2="424.60" y2="846.80" stroke="#2a2a2a" stroke-width="1.1" />
<line x1="431.60" y1="852.50" x2="431.60" y2="869.20" stroke="#2a2a2a" stroke-width="1.1" />
<line x1="444.90" y1="852.20" x2="444.90" y2="876.00" stroke="#2a2a2a" stroke-width="1.1" />
<line x1="451.30" y1="848.50" x2="451.30" y2="887.50" stroke="#2a2a2a" stroke-width="1.1" />
<line x1="455.80" y1="841.50" x2="455.80" y2="878.70" stroke="#2a2a2a" stroke-width="1.1" />
<line x1="471.50" y1="852.50" x2="471.50" y2="867.90" stroke="#2a2a2a" stroke-width="1.1" />
<line x1="477.60" y1="760.00" x2="477.60" y2="774.10" stroke="#2a2a2a" stroke-width="1.1" />
<line x1="484.90" y1="813.40" x2="484.90" y2="827.80" stroke="#2a2a2a" stroke-width="1.1" />
<line x1="487.20" y1="820.10" x2="487.20" y2="836.80" stroke="#2a2a2a" stroke-width="1.1" />
<line x1="497.60" y1="845.90" x2="497.60" y2="861.70" stroke="#2a2a2a" stroke-width="1.1" />
<text x="323.20" y="864.80" font-size="10" text-anchor="start" font-weight="normal" fill="#b33a55" >2929</text>
<text x="401.80" y="844.00" font-size="10" text-anchor="start" font-weight="normal" fill="#b33a55" >1730</text>
<text x="408.00" y="866.70" font-size="10" text-anchor="start" font-weight="normal" fill="#b33a55" >1610</text>
<text x="424.30" y="876.70" font-size="10" text-anchor="start" font-weight="normal" fill="#b33a55" >1416</text>
<text x="428.30" y="885.80" font-size="10" text-anchor="start" font-weight="normal" fill="#b33a55" >1324</text>
<text x="457.50" y="876.70" font-size="10" text-anchor="start" font-weight="normal" fill="#b33a55" >1252</text>
<text x="473.80" y="866.60" font-size="10" text-anchor="start" font-weight="normal" fill="#b33a55" >1010</text>
<text x="458.00" y="772.90" font-size="10" text-anchor="start" font-weight="normal" fill="#b33a55" >916</text>
<text x="466.40" y="825.70" font-size="10" text-anchor="start" font-weight="normal" fill="#b33a55" >802</text>
<text x="489.50" y="832.90" font-size="10" text-anchor="start" font-weight="normal" fill="#b33a55" >770</text>
<text x="498.50" y="858.80" font-size="10" text-anchor="start" font-weight="normal" fill="#b33a55" >609</text>
</svg>
</body></html>
